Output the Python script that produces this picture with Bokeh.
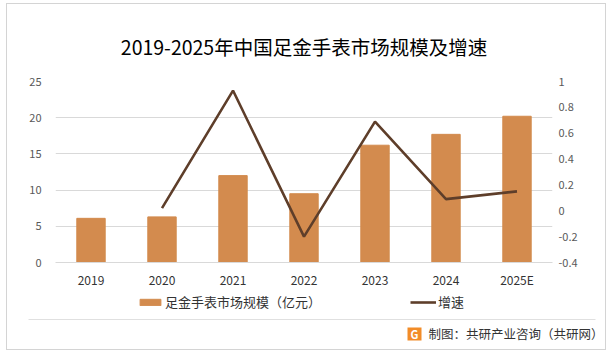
from bokeh.plotting import figure
from bokeh.layouts import column
from bokeh.models import (Range1d, LinearAxis, FixedTicker, Legend, LegendItem,
                          Label)
from bokeh.embed import file_html
from bokeh.resources import INLINE

# ---- data ----
years = ["2019", "2020", "2021", "2022", "2023", "2024", "2025E"]
market_size = [6.1, 6.3, 12.0, 9.5, 16.2, 17.7, 20.2]          # 亿元
growth_years = ["2020", "2021", "2022", "2023", "2024", "2025E"]
growth = [0.02, 0.93, -0.20, 0.69, 0.09, 0.15]
left_ticks = [0, 5, 10, 15, 20, 25]
right_ticks = [-0.4, -0.2, 0, 0.2, 0.4, 0.6, 0.8, 1]
right_labels = ["-0.4", "-0.2", "0", "0.2", "0.4", "0.6", "0.8", "1"]
series_names = ["足金手表市场规模（亿元）", "增速"]

FONT = "Noto Sans CJK SC"
BAR_COLOR = "#D38B4E"
LINE_COLOR = "#5E3E2A"
GRID = "#D9D9D9"
TEXT = "#595959"
NAN = float("nan")

p = figure(frame_width=497, frame_height=181, x_range=years, y_range=Range1d(0, 25),
           output_backend="svg", toolbar_location=None,
           min_border_left=48, min_border_right=53,
           min_border_top=77, min_border_bottom=28)
p.frame_align = False
p.outline_line_color = None
p.background_fill_color = "white"
p.border_fill_color = "white"

p.extra_y_ranges = {"g": Range1d(-0.4, 1)}

bars = p.vbar(x=years, top=market_size, width=0.4, color=BAR_COLOR)
line = p.line(x=growth_years, y=growth, y_range_name="g",
              line_color=LINE_COLOR, line_width=2.6)

# title
p.title.text = "2019-2025年中国足金手表市场规模及增速"
p.title.align = "center"
p.title.offset = 7
p.title.text_font = FONT
p.title.text_font_size = "19.5px"
p.title.text_font_style = "normal"
p.title.text_color = "#000000"
p.title.standoff = 41

# axes
p.xaxis.axis_line_color = GRID
p.xaxis.major_tick_line_color = None
p.xaxis.minor_tick_line_color = None
p.xaxis.major_label_text_font = FONT
p.xaxis.major_label_text_font_size = "12px"
p.xaxis.major_label_text_color = "#333333"
p.xaxis.major_label_standoff = 2

p.yaxis.ticker = FixedTicker(ticks=left_ticks)
p.yaxis.axis_line_color = None
p.yaxis.major_tick_line_color = None
p.yaxis.minor_tick_line_color = None
p.yaxis.major_label_text_font = FONT
p.yaxis.major_label_text_font_size = "11px"
p.yaxis.major_label_text_color = TEXT
p.yaxis.major_label_standoff = 8

raxis = LinearAxis(y_range_name="g", ticker=FixedTicker(ticks=right_ticks),
                   major_label_overrides={t: s for t, s in zip(right_ticks, right_labels)})
raxis.axis_line_color = None
raxis.major_tick_line_color = None
raxis.minor_tick_line_color = None
raxis.major_label_text_font = FONT
raxis.major_label_text_font_size = "11px"
raxis.major_label_text_color = TEXT
raxis.major_label_standoff = 0
p.add_layout(raxis, "right")

p.xgrid.grid_line_color = None
p.ygrid.grid_line_color = GRID
p.ygrid.grid_line_width = 1

# ---- bottom strip: legend + source note ----
f = figure(width=598, height=59, x_range=Range1d(0, 598), y_range=Range1d(59, 0),
           x_axis_type=None, y_axis_type=None,
           output_backend="svg", toolbar_location=None,
           min_border=0, min_border_left=0, min_border_right=0,
           min_border_top=0, min_border_bottom=0)
f.frame_align = False
f.grid.visible = False
f.outline_line_color = None
f.background_fill_color = "white"
f.border_fill_color = "white"

# legend keys styled as the series above (no visible data of their own)
key_bar = f.vbar(x=[NAN], top=[NAN], width=0.4, color=BAR_COLOR)
key_line = f.line(x=[NAN, NAN], y=[NAN, NAN], line_color=LINE_COLOR, line_width=2.6)
legend = Legend(items=[LegendItem(label=series_names[0], renderers=[key_bar]),
                       LegendItem(label=series_names[1], renderers=[key_line])],
                orientation="horizontal", location=(130, 38),
                label_text_font=FONT, label_text_font_size="13px",
                label_text_color="#333333", glyph_width=26, glyph_height=8,
                label_standoff=2, spacing=89, padding=0, margin=0,
                border_line_color=None, background_fill_alpha=0)
f.add_layout(legend)

f.segment(x0=[21], y0=[29], x1=[588], y1=[29], line_color="#E0E0E0", line_width=1)
f.quad(left=[400], right=[414], top=[37], bottom=[50], fill_color="#F28C28",
       line_color=None)
f.add_layout(Label(x=407, y=43.5, text="G", text_font=FONT, text_font_size="11px",
                   text_font_style="bold", text_color="white", text_align="center",
                   text_baseline="middle"))
f.add_layout(Label(x=421, y=43, text="制图：共研产业咨询（共研网）", text_font=FONT,
                   text_font_size="12.5px", text_color="#333333",
                   text_baseline="middle"))

layout = column(p, f, spacing=0,
                margin=(3, 0, 0, 6),
                styles={"border": "1px solid #D4D4D4", "background-color": "white"})

open("out.html", "w").write(file_html(layout, INLINE))
